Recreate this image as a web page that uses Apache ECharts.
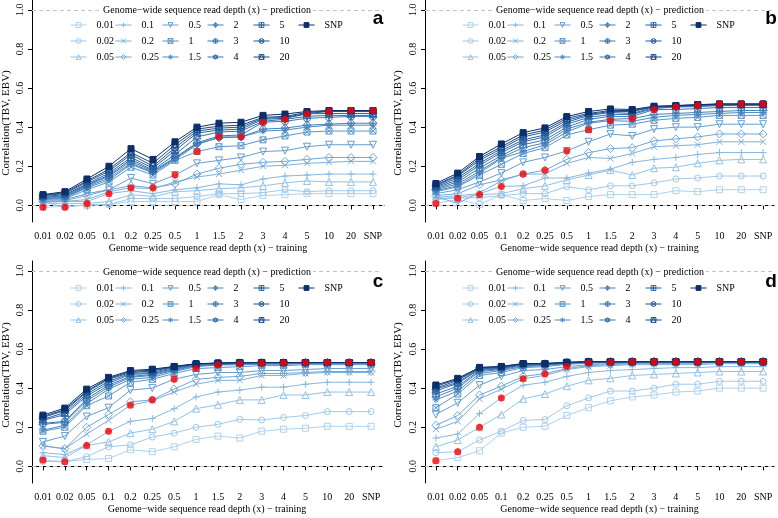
<!DOCTYPE html>
<html><head><meta charset="utf-8">
<script src="https://cdn.jsdelivr.net/npm/echarts@6/dist/echarts.min.js"></script>
<style>html,body{margin:0;padding:0;background:#fff}#c{width:778px;height:518px}</style>
</head><body><div id="c"></div>
<script>
// training depths (x axis categories)
const categories = ['0.01','0.02','0.05','0.1','0.2','0.25','0.5','1','1.5','2','3','4','5','10','20','SNP'];
// prediction depths (one line each)
const predNames = ['0.01','0.02','0.05','0.1','0.2','0.25','0.5','1','1.5','2','3','4','5','10','20','SNP'];
const yTicks = [0, 0.2, 0.4, 0.6, 0.8, 1.0];
const panelLetters = ['a','b','c','d'];
const legendTitle = 'Genome\u2212wide sequence read depth (x) \u2212 prediction';
const xTitle = 'Genome\u2212wide sequence read depth (x) \u2212 training';
const yTitle = 'Correlation(TBV, EBV)';

// rows = prediction depth, columns = training depth
const panelA = [
 [-0.01,-0.005,0.0,0.005,0.02,0.02,0.02,0.02,0.055,0.03,0.05,0.055,0.06,0.06,0.06,0.06],
 [0.02,-0.01,0.005,0.005,0.035,0.035,0.035,0.045,0.06,0.06,0.065,0.08,0.07,0.075,0.075,0.075],
 [0.01,0.01,0.01,0.02,0.055,0.045,0.07,0.075,0.085,0.09,0.10,0.115,0.125,0.12,0.12,0.12],
 [0.015,0.02,0.02,0.06,0.075,0.06,0.08,0.09,0.11,0.105,0.135,0.15,0.155,0.16,0.16,0.16],
 [0.02,0.02,0.03,0.07,0.09,0.085,0.12,0.145,0.16,0.18,0.20,0.205,0.215,0.22,0.225,0.225],
 [0.02,0.025,0.05,0.08,0.10,0.09,0.11,0.16,0.19,0.21,0.22,0.225,0.235,0.245,0.245,0.245],
 [0.025,0.03,0.06,0.08,0.14,0.11,0.155,0.215,0.23,0.245,0.275,0.28,0.30,0.31,0.31,0.31],
 [0.03,0.035,0.08,0.12,0.195,0.155,0.23,0.275,0.30,0.305,0.335,0.355,0.375,0.38,0.38,0.38],
 [0.03,0.04,0.09,0.13,0.21,0.165,0.235,0.31,0.35,0.35,0.38,0.385,0.40,0.41,0.41,0.41],
 [0.035,0.04,0.095,0.14,0.215,0.17,0.24,0.315,0.345,0.35,0.39,0.395,0.41,0.415,0.42,0.42],
 [0.04,0.045,0.10,0.15,0.225,0.175,0.245,0.32,0.355,0.36,0.425,0.43,0.445,0.45,0.455,0.455],
 [0.04,0.05,0.105,0.155,0.235,0.18,0.26,0.35,0.375,0.38,0.43,0.44,0.455,0.46,0.46,0.46],
 [0.045,0.055,0.11,0.165,0.245,0.19,0.28,0.37,0.385,0.39,0.44,0.445,0.468,0.47,0.47,0.47],
 [0.05,0.06,0.12,0.175,0.26,0.20,0.295,0.38,0.395,0.40,0.445,0.45,0.47,0.48,0.48,0.48],
 [0.052,0.065,0.125,0.185,0.27,0.215,0.31,0.39,0.405,0.41,0.45,0.455,0.475,0.482,0.485,0.485],
 [0.055,0.07,0.135,0.20,0.29,0.235,0.325,0.40,0.42,0.425,0.46,0.467,0.48,0.485,0.485,0.485]
];
const panelB = [
 [0.01,0.03,0.005,0.055,0.025,0.035,0.025,0.045,0.055,0.055,0.055,0.075,0.07,0.08,0.08,0.08],
 [0.03,0.037,0.04,0.05,0.06,0.06,0.095,0.08,0.10,0.10,0.115,0.135,0.14,0.15,0.15,0.15],
 [0.035,0.04,0.055,0.06,0.085,0.10,0.13,0.155,0.18,0.155,0.19,0.195,0.215,0.23,0.235,0.235],
 [0.04,0.05,0.06,0.097,0.10,0.14,0.14,0.165,0.185,0.22,0.235,0.245,0.26,0.27,0.27,0.27],
 [0.045,0.01,0.065,0.125,0.16,0.16,0.215,0.245,0.24,0.265,0.30,0.305,0.31,0.325,0.325,0.325],
 [0.05,0.06,0.105,0.13,0.16,0.18,0.235,0.27,0.29,0.295,0.33,0.34,0.35,0.365,0.365,0.365],
 [0.06,0.08,0.12,0.165,0.22,0.245,0.278,0.325,0.365,0.355,0.39,0.40,0.40,0.415,0.415,0.415],
 [0.07,0.095,0.155,0.21,0.265,0.295,0.36,0.387,0.41,0.415,0.435,0.445,0.45,0.46,0.46,0.46],
 [0.075,0.10,0.165,0.24,0.275,0.31,0.375,0.42,0.433,0.43,0.45,0.46,0.465,0.47,0.475,0.475],
 [0.08,0.11,0.175,0.245,0.295,0.32,0.39,0.425,0.44,0.444,0.465,0.47,0.475,0.48,0.485,0.485],
 [0.085,0.12,0.19,0.255,0.31,0.335,0.40,0.44,0.455,0.455,0.49,0.49,0.495,0.50,0.50,0.50],
 [0.09,0.13,0.205,0.27,0.325,0.35,0.415,0.45,0.465,0.465,0.495,0.503,0.505,0.51,0.51,0.51],
 [0.095,0.14,0.215,0.28,0.335,0.36,0.425,0.46,0.475,0.47,0.50,0.505,0.51,0.512,0.515,0.515],
 [0.10,0.15,0.23,0.29,0.35,0.375,0.435,0.465,0.48,0.48,0.503,0.507,0.512,0.518,0.518,0.518],
 [0.105,0.155,0.24,0.30,0.36,0.385,0.445,0.47,0.485,0.485,0.505,0.51,0.515,0.518,0.518,0.518],
 [0.112,0.165,0.25,0.314,0.372,0.396,0.454,0.48,0.493,0.49,0.507,0.51,0.515,0.518,0.518,0.518]
];
const panelC = [
 [0.032,0.025,0.035,0.04,0.085,0.075,0.10,0.138,0.155,0.145,0.18,0.19,0.195,0.205,0.205,0.205],
 [0.025,0.024,0.05,0.10,0.11,0.15,0.17,0.20,0.215,0.24,0.237,0.25,0.26,0.28,0.28,0.28],
 [0.055,0.045,0.107,0.125,0.17,0.19,0.23,0.295,0.315,0.34,0.34,0.365,0.365,0.38,0.38,0.38],
 [0.07,0.06,0.11,0.179,0.23,0.245,0.295,0.355,0.38,0.39,0.405,0.405,0.42,0.43,0.43,0.43],
 [0.105,0.09,0.165,0.235,0.313,0.335,0.38,0.42,0.44,0.44,0.465,0.465,0.475,0.48,0.48,0.48],
 [0.105,0.09,0.20,0.265,0.33,0.34,0.395,0.445,0.455,0.46,0.475,0.475,0.48,0.485,0.485,0.485],
 [0.125,0.155,0.255,0.30,0.39,0.40,0.446,0.47,0.48,0.48,0.49,0.49,0.495,0.50,0.50,0.50],
 [0.18,0.20,0.31,0.36,0.43,0.445,0.475,0.50,0.505,0.51,0.515,0.515,0.52,0.52,0.52,0.52],
 [0.185,0.21,0.32,0.395,0.445,0.455,0.485,0.51,0.518,0.52,0.522,0.522,0.525,0.525,0.525,0.525],
 [0.215,0.225,0.335,0.405,0.455,0.465,0.49,0.515,0.52,0.525,0.525,0.525,0.527,0.528,0.528,0.528],
 [0.22,0.23,0.345,0.415,0.46,0.47,0.495,0.518,0.523,0.526,0.527,0.528,0.528,0.53,0.53,0.53],
 [0.235,0.265,0.36,0.425,0.47,0.475,0.50,0.52,0.525,0.528,0.528,0.528,0.53,0.53,0.53,0.53],
 [0.24,0.275,0.37,0.435,0.475,0.48,0.505,0.522,0.527,0.53,0.53,0.53,0.53,0.531,0.531,0.531],
 [0.25,0.285,0.38,0.445,0.48,0.488,0.508,0.523,0.528,0.53,0.531,0.531,0.531,0.531,0.531,0.531],
 [0.255,0.29,0.385,0.45,0.485,0.492,0.51,0.524,0.528,0.53,0.531,0.531,0.531,0.531,0.531,0.531],
 [0.262,0.298,0.395,0.455,0.49,0.497,0.511,0.525,0.528,0.531,0.531,0.531,0.531,0.531,0.531,0.531]
];
const panelD = [
 [0.029,0.045,0.08,0.17,0.20,0.205,0.26,0.30,0.335,0.355,0.365,0.38,0.385,0.40,0.40,0.40],
 [0.07,0.075,0.135,0.18,0.235,0.24,0.31,0.35,0.385,0.385,0.40,0.42,0.42,0.435,0.435,0.435],
 [0.10,0.135,0.20,0.265,0.345,0.37,0.41,0.44,0.45,0.465,0.47,0.475,0.48,0.485,0.485,0.485],
 [0.145,0.165,0.27,0.35,0.415,0.43,0.46,0.48,0.49,0.495,0.50,0.505,0.505,0.51,0.51,0.51],
 [0.19,0.23,0.345,0.395,0.448,0.465,0.495,0.51,0.515,0.52,0.52,0.52,0.52,0.525,0.525,0.525],
 [0.21,0.26,0.365,0.41,0.46,0.474,0.50,0.515,0.52,0.525,0.525,0.527,0.527,0.53,0.53,0.53],
 [0.265,0.325,0.415,0.46,0.49,0.495,0.51,0.52,0.525,0.528,0.53,0.53,0.53,0.532,0.532,0.532],
 [0.30,0.37,0.465,0.48,0.505,0.51,0.522,0.528,0.53,0.532,0.533,0.533,0.533,0.533,0.533,0.533],
 [0.34,0.385,0.475,0.49,0.51,0.515,0.525,0.53,0.532,0.533,0.534,0.534,0.534,0.534,0.534,0.534],
 [0.355,0.40,0.485,0.495,0.515,0.518,0.527,0.532,0.533,0.535,0.535,0.535,0.535,0.535,0.535,0.535],
 [0.37,0.41,0.49,0.50,0.518,0.52,0.528,0.533,0.534,0.535,0.535,0.535,0.535,0.535,0.535,0.535],
 [0.385,0.425,0.495,0.502,0.52,0.522,0.53,0.534,0.535,0.535,0.535,0.535,0.535,0.535,0.535,0.535],
 [0.395,0.43,0.498,0.505,0.522,0.523,0.53,0.534,0.535,0.535,0.535,0.535,0.535,0.535,0.535,0.535],
 [0.40,0.44,0.502,0.508,0.524,0.525,0.531,0.535,0.535,0.535,0.535,0.535,0.535,0.535,0.535,0.535],
 [0.41,0.445,0.505,0.51,0.525,0.525,0.532,0.535,0.535,0.535,0.535,0.535,0.535,0.535,0.535,0.535],
 [0.416,0.45,0.506,0.511,0.526,0.526,0.532,0.535,0.535,0.535,0.535,0.535,0.535,0.535,0.535,0.535]
];
const panels = [panelA, panelB, panelC, panelD];

// ---------- styling ----------
const colors = ['#aed2ee','#a1c9ea','#94c1e5','#88b8e0','#7cb0db','#70a7d5','#659ecf','#5a95c9','#508bc3','#4682bc','#3d78b4','#346eab','#2b63a1','#225795','#194a87','#0c2f6b'];
const SQ = 'M0,0L10,0L10,10L0,10Z';
const CI = 'M0,5A5,5 0 1,0 10,5A5,5 0 1,0 0,5Z';
const PL = 'M5,0L5,10M0,5L10,5';
const XX = 'M0,0L10,10M10,0L0,10';
const symbols = [
  'path://' + SQ,
  'path://' + CI,
  'path://M5,0L10,9L0,9Z',
  'path://' + PL,
  'path://' + XX,
  'path://M5,0L10,5L5,10L0,5Z',
  'path://M0,0L10,0L5,9Z',
  'path://' + SQ + XX,
  'path://' + PL + 'M1.5,1.5L8.5,8.5M8.5,1.5L1.5,8.5',
  'path://M5,0L10,5L5,10L0,5Z' + PL,
  'path://' + CI + PL,
  'path://M5,0L9.33,7.5L0.67,7.5ZM5,10L0.67,2.5L9.33,2.5Z',
  'path://' + SQ + PL,
  'path://' + CI + 'M1.5,1.5L8.5,8.5M8.5,1.5L1.5,8.5',
  'path://' + SQ + 'M0,10L5,0L10,10',
  'rect'
];
const symSizes = [6,6,7,7,6,8,7,6,7,8,7,8,6,7,6,6];
const serif = 'Liberation Serif';
const clear = 'rgba(255,255,255,0)';

const layout = [
  {left:32,  top:0,   width:352, height:222, legX:0,   legY:20,  tX:207, tY:10,  lX:378, lY:28,  yX:6,   yY:123},
  {left:425, top:0,   width:349, height:222, legX:392, legY:20,  tX:600, tY:10,  lX:771, lY:28,  yX:398, yY:123},
  {left:32,  top:261, width:350, height:222, legX:0,   legY:283, tX:207, tY:272, lX:378, lY:291, yX:6,   yY:375},
  {left:425, top:261, width:349, height:222, legX:392, legY:283, tX:600, tY:272, lX:771, lY:291, yX:398, yY:375}
];
const legCols = [70,115,162,207,253,298];
const legGroups = [[0,1,2],[3,4,5],[6,7,8],[9,10,11],[12,13,14],[15]];

const grid = [], xAxis = [], yAxis = [], series = [], legend = [], graphic = [];
layout.forEach((L, p) => {
  grid.push({left:L.left, top:L.top, width:L.width, height:L.height});
  xAxis.push({
    type:'category', gridIndex:p, data:categories, boundaryGap:true,
    axisLine:{show:true, lineStyle:{color:'#000', width:1}},
    axisTick:{show:true, alignWithLabel:true, length:4, lineStyle:{color:'#000'}},
    axisLabel:{interval:0, color:'#000', fontFamily:serif, fontSize:10, margin:9},
    splitLine:{show:false},
    name:xTitle, nameLocation:'middle', nameGap:21,
    nameTextStyle:{color:'#000', fontFamily:serif, fontSize:10}
  });
  yAxis.push({
    type:'value', gridIndex:p, min:-0.085, max:1.05,
    axisLine:{show:true, lineStyle:{color:'#000', width:1}},
    axisTick:{show:true, length:4, customValues:yTicks, lineStyle:{color:'#000'}},
    axisLabel:{show:true, customValues:yTicks, rotate:90, color:'#000', fontFamily:serif, fontSize:10, margin:7,
      formatter: v => v.toFixed(1)},
    splitLine:{show:false}
  });
  const data = panels[p];
  predNames.forEach((nm, s) => {
    const isFilled = s === 15;
    const ser = {
      type:'line', name:nm, xAxisIndex:p, yAxisIndex:p,
      data:data[s], symbol:symbols[s], symbolSize:symSizes[s], showSymbol:true,
      lineStyle:{color:colors[s], width:1},
      itemStyle:{color: isFilled ? colors[s] : clear, borderColor:colors[s], borderWidth:1},
      emphasis:{disabled:true}, silent:true, z:2 + s * 0.01
    };
    if (s === 0) {
      ser.markLine = {silent:true, symbol:'none', label:{show:false},
        lineStyle:{color:'#c4c4c4', type:[4,3], width:1},
        data:[{yAxis:0},{yAxis:1}]};
    }
    series.push(ser);
  });
  // red dots: training depth equals prediction depth
  series.push({
    type:'scatter', name:'diag', xAxisIndex:p, yAxisIndex:p,
    data: categories.map((c, i) => data[i][i]),
    symbol:'circle', symbolSize:7, itemStyle:{color:'#ff0000'}, z:5, silent:true
  });
  legGroups.forEach((g, k) => {
    legend.push({
      orient:'vertical', left:L.legX + legCols[k], top:L.legY, padding:0,
      itemWidth:16, itemHeight:6, itemGap:6, selectedMode:false,
      data: g.map(i => ({
        name: predNames[i],
        itemStyle:{color: i === 15 ? colors[i] : clear, borderColor:colors[i], borderWidth:1},
        lineStyle:{color:colors[i], width:1}
      })),
      textStyle:{color:'#000', fontFamily:serif, fontSize:10, padding:[0,0,0,5]}
    });
  });
  graphic.push({type:'text', x:L.tX, y:L.tY, z:100,
    style:{text:legendTitle, fill:'#000', font:'10px "Liberation Serif"', align:'center', verticalAlign:'middle',
      backgroundColor:'#fff', padding:[1,2]}});
  graphic.push({type:'text', x:L.lX, y:L.lY, z:100,
    style:{text:panelLetters[p], fill:'#000', font:'bold 19px "Liberation Sans"', align:'center', verticalAlign:'bottom'}});
  graphic.push({type:'text', x:L.yX, y:L.yY, rotation:Math.PI/2, z:100,
    style:{text:yTitle, fill:'#000', font:'11px "Liberation Serif"', align:'center', verticalAlign:'middle'}});
});

const chart = echarts.init(document.getElementById('c'), null, {renderer:'canvas'});
chart.setOption({animation:false, backgroundColor:'#fff', grid, xAxis, yAxis, series, legend, graphic});
</script></body></html>
